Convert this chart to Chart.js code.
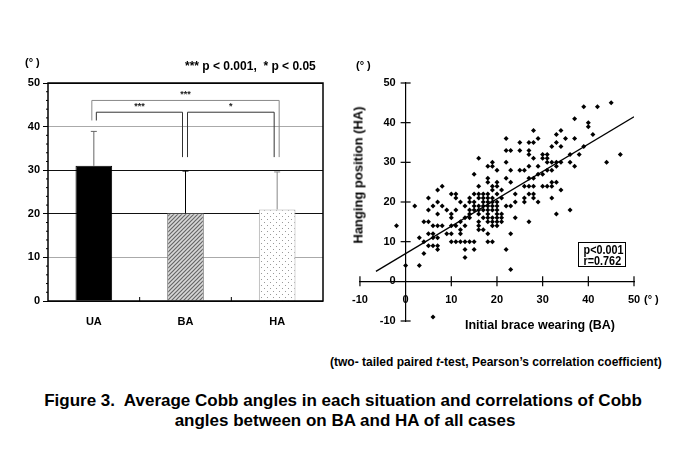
<!DOCTYPE html>
<html>
<head>
<meta charset="utf-8">
<script src="https://cdn.jsdelivr.net/npm/chart.js@4.4.1/dist/chart.umd.min.js"></script>
<style>
  body { margin: 0; background: #fff; width: 685px; height: 456px; position: relative; overflow: hidden;
         font-family: "Liberation Sans", Arial, sans-serif; font-weight: bold; color: #000; }
  canvas { position: absolute; top: 0; }
  .t { position: absolute; white-space: nowrap; line-height: 1; }
  .box span { display: block; transform: scaleX(0.8); }
</style>
</head>
<body>
<canvas id="barChart" width="340" height="340" style="left:0"></canvas>
<canvas id="scatterChart" width="345" height="340" style="left:340px"></canvas>

<div class="t" style="left:25px;top:57px;font-size:11px">(° )</div>
<div class="t" style="left:185px;top:60px;font-size:12px">*** p &lt; 0.001,&nbsp; * p &lt; 0.05</div>
<div class="t" style="left:356px;top:60px;font-size:11px">(° )</div>
<div class="t" style="left:358px;top:175px;font-size:13px;transform:translate(-50%,-50%) rotate(-90deg)">Hanging position (HA)</div>
<div class="t" style="left:540px;top:325px;font-size:12.5px;transform:translate(-50%,-50%)">Initial brace wearing (BA)</div>
<div class="t" style="left:644px;top:294px;font-size:11px">(° )</div>
<div class="t box" style="left:578px;top:242px;width:46px;height:22px;border:1.5px solid #000;font-size:13.5px;line-height:11px;padding-top:1px;text-align:center"><span>p&lt;0.001</span><span>r=0.762</span></div>

<div class="t" style="left:330px;top:356px;font-size:12px">(two- tailed paired <i>t</i>-test, Pearson’s correlation coefficient)</div>
<div class="t" style="left:343px;top:392px;font-size:17px;transform:translateX(-50%)">Figure 3.&nbsp; Average Cobb angles in each situation and correlations of Cobb</div>
<div class="t" style="left:345px;top:412px;font-size:17px;transform:translateX(-50%)">angles between on BA and HA of all cases</div>

<script>
// bar chart: mean Cobb angle and SD
const categories = ['UA', 'BA', 'HA'];
const meanAngles = [31, 20.1, 21];
const sdAngles = [7.9, 9.7, 8.6];
const barTicks = [0, 10, 20, 30, 40, 50];

// significance brackets: which bars, and heights (deg)
const brackets = [
  { from: 0, to: 2, top: 46, leftEnd: 41.4, rightEnd: 33, label: '***' },
  { from: 0, to: 1, top: 43.3, leftEnd: 41.4, rightEnd: 33, label: '***' },
  { from: 1, to: 2, top: 43.3, leftEnd: 33, rightEnd: 33, label: '*' }
];

// scatter: BA (x) vs HA (y), one line per HA level
const baValues = [
  45,
  39, 42,
  37,
  40,
  40,
  28, 34,
  33, 41,
  22, 29, 35, 37,
  25, 27, 28, 33,
  32, 34, 39,
  22, 23, 25, 27,
  27, 30, 31, 36, 38, 47,
  16, 28, 30, 31,
  19, 22, 31, 32, 33, 34, 36, 44,
  18, 19, 27, 29, 33, 37,
  20, 23, 25, 26, 31, 32,
  15, 29, 30,
  18, 22, 27, 28,
  18, 20, 23, 32, 33,
  8, 16, 19, 20, 26, 27, 28, 30, 31, 32,
  7, 19, 21, 34,
  10, 11, 15, 16, 17, 18, 20, 24, 27, 28,
  5, 11, 14, 16, 17, 18, 19, 21, 26, 28, 32,
  7, 12, 14, 15, 17, 18, 19, 20, 24, 26, 29,
  2, 6, 8, 13, 15, 16, 17, 18, 19, 20, 22, 23,
  5, 9, 11, 14, 15, 16, 17, 18, 19, 20, 36,
  7, 10, 14, 16, 18, 20, 21, 33,
  10, 13, 14, 17, 18, 19, 20, 21, 24,
  4, 5, 12, 16, 18, 19, 20, 21, 27,
  -2, 6, 7, 8, 10, 11, 13, 16, 19, 20,
  12, 16, 17,
  5, 6, 9, 10, 12, 18, 23,
  3, 6, 7,
  4, 10, 11, 12, 13, 14, 15, 18, 19,
  5, 6, 7,
  7, 13, 15, 22,
  4,
  13,
  0, 3,
  23,
  6
];
const haValues = [
  45,
  44, 44,
  41,
  40,
  39,
  38, 38,
  37, 37,
  36, 36, 36, 36,
  35, 35, 35, 35,
  34, 34, 34,
  33, 33, 33, 33,
  32, 32, 32, 32, 32, 32,
  31, 31, 31, 31,
  30, 30, 30, 30, 30, 30, 30, 30,
  29, 29, 29, 29, 29, 29,
  28, 28, 28, 28, 28, 28,
  27, 27, 27,
  26, 26, 26, 26,
  25, 25, 25, 25, 25,
  24, 24, 24, 24, 24, 24, 24, 24, 24, 24,
  23, 23, 23, 23,
  22, 22, 22, 22, 22, 22, 22, 22, 22, 22,
  21, 21, 21, 21, 21, 21, 21, 21, 21, 21, 21,
  20, 20, 20, 20, 20, 20, 20, 20, 20, 20, 20,
  19, 19, 19, 19, 19, 19, 19, 19, 19, 19, 19, 19,
  18, 18, 18, 18, 18, 18, 18, 18, 18, 18, 18,
  17, 17, 17, 17, 17, 17, 17, 17,
  16, 16, 16, 16, 16, 16, 16, 16, 16,
  15, 15, 15, 15, 15, 15, 15, 15, 15,
  14, 14, 14, 14, 14, 14, 14, 14, 14, 14,
  13, 13, 13,
  12, 12, 12, 12, 12, 12, 12,
  11, 11, 11,
  10, 10, 10, 10, 10, 10, 10, 10, 10,
  9, 9, 9,
  8, 8, 8, 8,
  7,
  6,
  4, 4,
  3,
  -9
];
const fitLineX = [-6.5, 50];
const fitLineY = [2.5, 41.5];
const scatterTicks = [-10, 0, 10, 20, 30, 40, 50];

const FONT = { family: '"Liberation Sans", Arial, sans-serif', size: 11, weight: 'bold' };

function hatchPattern() {
  const c = document.createElement('canvas');
  c.width = 4; c.height = 4;
  const g = c.getContext('2d');
  g.fillStyle = '#d8d8d8';
  g.fillRect(0, 0, 4, 4);
  g.strokeStyle = '#666';
  g.lineWidth = 1.2;
  g.beginPath();
  g.moveTo(-1, 5); g.lineTo(5, -1);
  g.moveTo(-1, 1); g.lineTo(1, -1);
  g.moveTo(3, 5); g.lineTo(5, 3);
  g.stroke();
  return g.createPattern(c, 'repeat');
}

function dotPattern() {
  const c = document.createElement('canvas');
  c.width = 6; c.height = 6;
  const g = c.getContext('2d');
  g.fillStyle = '#fff';
  g.fillRect(0, 0, 6, 6);
  g.fillStyle = '#999';
  g.fillRect(0, 0, 1, 1);
  g.fillRect(3, 3, 1, 1);
  return g.createPattern(c, 'repeat');
}

const barExtras = {
  id: 'barExtras',
  afterDatasetsDraw(chart) {
    const { ctx, chartArea: a, scales: { x, y } } = chart;
    const bars = chart.getDatasetMeta(0).data;
    ctx.save();
    // box around plot
    ctx.strokeStyle = '#000';
    ctx.lineWidth = 1.5;
    ctx.strokeRect(a.left, a.top, a.right - a.left, a.bottom - a.top);
    // small ticks between categories
    ctx.lineWidth = 1;
    for (let i = 0; i < categories.length - 1; i++) {
      const px = (x.getPixelForValue(i) + x.getPixelForValue(i + 1)) / 2;
      ctx.beginPath(); ctx.moveTo(px, a.bottom); ctx.lineTo(px, a.bottom - 4); ctx.stroke();
    }
    // minor ticks on y axis
    for (let v = 2; v < 50; v += 2) {
      if (v % 10 === 0) continue;
      const py = y.getPixelForValue(v);
      ctx.beginPath(); ctx.moveTo(a.left - 2, py); ctx.lineTo(a.left, py); ctx.stroke();
    }
    // error bars (upper only)
    const errColors = ['#666', '#000', '#888'];
    bars.forEach((b, i) => {
      const yt = y.getPixelForValue(meanAngles[i] + sdAngles[i]);
      ctx.strokeStyle = errColors[i];
      ctx.lineWidth = 1;
      ctx.beginPath();
      ctx.moveTo(b.x, b.y); ctx.lineTo(b.x, yt);
      ctx.moveTo(b.x - 3, yt); ctx.lineTo(b.x + 3, yt);
      ctx.stroke();
    });
    // significance brackets
    const bColors = ['#888', '#333', '#333'];
    const offs = [[-2, 2], [2.5, -3], [2, -3]];
    ctx.font = 'bold 9px "Liberation Sans", Arial, sans-serif';
    ctx.textAlign = 'center';
    ctx.textBaseline = 'bottom';
    brackets.forEach((br, i) => {
      const x1 = bars[br.from].x + offs[i][0];
      const x2 = bars[br.to].x + offs[i][1];
      const yt = y.getPixelForValue(br.top);
      ctx.strokeStyle = bColors[i];
      ctx.lineWidth = 1;
      ctx.beginPath();
      ctx.moveTo(x1, y.getPixelForValue(br.leftEnd));
      ctx.lineTo(x1, yt); ctx.lineTo(x2, yt);
      ctx.lineTo(x2, y.getPixelForValue(br.rightEnd));
      ctx.stroke();
      ctx.fillStyle = '#222';
      ctx.fillText(br.label, (x1 + x2) / 2, yt - 1);
    });
    ctx.restore();
  }
};

new Chart(document.getElementById('barChart'), {
  type: 'bar',
  data: {
    labels: categories,
    datasets: [{
      data: meanAngles,
      backgroundColor: ['#000', hatchPattern(), dotPattern()],
      borderColor: ['#000', '#777', '#aaa'],
      borderWidth: 1,
      barPercentage: 0.4,
      categoryPercentage: 1
    }]
  },
  options: {
    responsive: false,
    animation: false,
    events: [],
    layout: { padding: { left: 0, top: 83, right: 17, bottom: 8 } },
    plugins: { legend: { display: false }, tooltip: { enabled: false } },
    scales: {
      x: {
        grid: { display: false, drawTicks: false },
        border: { display: false },
        ticks: { color: '#000', font: FONT, padding: 14 },
        afterFit(s) { s.height = 31; }
      },
      y: {
        min: 0, max: 50,
        afterBuildTicks(s) { s.ticks = barTicks.map(v => ({ value: v })); },
        grid: {
          color: c => (c.tick && (c.tick.value === 10 || c.tick.value === 40)) ? '#aaa' : '#111',
          tickColor: '#000',
          tickLength: 5
        },
        border: { display: false },
        ticks: { color: '#000', font: FONT, padding: 3 },
        afterFit(s) { s.width = 48; }
      }
    }
  },
  plugins: [barExtras]
});

// crossing tick marks and y labels left of the y axis
const crossTicks = {
  id: 'crossTicks',
  afterDatasetsDraw(chart) {
    const { ctx, scales: { x, y } } = chart;
    const x0 = x.getPixelForValue(0), y0 = y.getPixelForValue(0);
    ctx.save();
    ctx.strokeStyle = '#000';
    ctx.lineWidth = 1.2;
    scatterTicks.forEach(v => {
      if (v === 0) return;
      const px = x.getPixelForValue(v);
      ctx.beginPath(); ctx.moveTo(px, y0 - 5); ctx.lineTo(px, y0 + 5); ctx.stroke();
      const py = y.getPixelForValue(v);
      ctx.beginPath(); ctx.moveTo(x0 - 5, py); ctx.lineTo(x0 + 5, py); ctx.stroke();
    });
    ctx.fillStyle = '#000';
    ctx.font = 'bold 11px "Liberation Sans", Arial, sans-serif';
    ctx.textAlign = 'right';
    ctx.textBaseline = 'middle';
    scatterTicks.forEach(v => ctx.fillText(String(v), x0 - 10, y.getPixelForValue(v)));
    ctx.restore();
  }
};

new Chart(document.getElementById('scatterChart'), {
  type: 'scatter',
  data: {
    datasets: [
      {
        data: baValues.map((v, i) => ({ x: v, y: haValues[i] })),
        pointStyle: 'rectRot',
        pointRadius: 2.5,
        backgroundColor: '#000',
        borderWidth: 0
      },
      {
        data: fitLineX.map((v, i) => ({ x: v, y: fitLineY[i] })),
        showLine: true,
        borderColor: '#000',
        borderWidth: 1.3,
        pointRadius: 0
      }
    ]
  },
  options: {
    responsive: false,
    animation: false,
    events: [],
    layout: { padding: { left: 13, top: 83, right: 51, bottom: 19 } },
    plugins: { legend: { display: false }, tooltip: { enabled: false } },
    scales: {
      x: {
        type: 'linear', min: -10, max: 50, position: { y: 0 },
        afterBuildTicks(s) { s.ticks = scatterTicks.map(v => ({ value: v })); },
        grid: { drawOnChartArea: false, drawTicks: false },
        border: { color: '#000', width: 1.2 },
        ticks: { color: '#000', font: FONT, padding: 12, maxRotation: 0 }
      },
      y: {
        type: 'linear', min: -10, max: 50, position: { x: 0 },
        afterBuildTicks(s) { s.ticks = scatterTicks.map(v => ({ value: v })); },
        grid: { drawOnChartArea: false, drawTicks: false },
        border: { color: '#000', width: 1.2 },
        ticks: { display: false }
      }
    }
  },
  plugins: [crossTicks]
});
</script>
</body>
</html>
